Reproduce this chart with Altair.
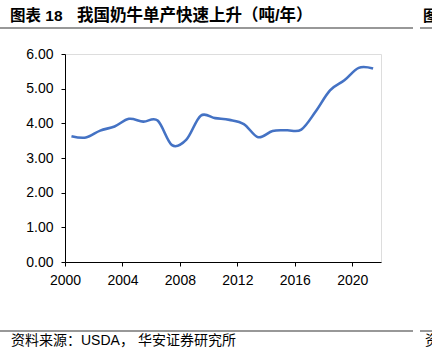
import altair as alt
import pandas as pd

years = list(range(2000, 2022))
yield_t = [3.63, 3.59, 3.79, 3.91, 4.13, 4.05, 4.08, 3.37, 3.53, 4.22, 4.15,
           4.10, 3.98, 3.60, 3.78, 3.80, 3.82, 4.34, 4.95, 5.24, 5.60, 5.58]
x_ticks = [2000, 2004, 2008, 2012, 2016, 2020]
y_ticks = [0, 1, 2, 3, 4, 5, 6]

title_label = "图表 18"
title_text = "我国奶牛单产快速上升（吨/年）"
source_a = "资料来源：USDA，"
source_b = "华安证券研究所"

FONT = "Liberation Sans, Noto Sans CJK SC"

df = pd.DataFrame({"year": years, "value": yield_t})

line = alt.Chart(df).transform_calculate(
    xpos="datum.year + 0.45"
).mark_line(
    interpolate="cardinal", color="#4472C4", strokeWidth=2.6
).encode(
    x=alt.X("xpos:Q", scale=alt.Scale(domain=[2000, 2022], nice=False, zero=False),
            axis=alt.Axis(values=x_ticks, format="d", title=None, grid=False,
                          domainColor="#000", tickColor="#000", tickSize=4,
                          labelFontSize=14, labelFont=FONT, labelColor="#000",
                          labelPadding=7, labelFlush=False)),
    y=alt.Y("value:Q", scale=alt.Scale(domain=[0, 6], nice=False),
            axis=alt.Axis(values=y_ticks, format=".2f", title=None, grid=False,
                          domainColor="#000", tickColor="#000", tickSize=4,
                          labelFontSize=14, labelFont=FONT, labelColor="#000",
                          labelPadding=8)),
)

one = alt.Data(values=[{"a": 1}])

def txt(s, x, y, size, weight="normal", color="#000"):
    return alt.Chart(one).mark_text(
        text=s, align="left", baseline="middle", fontSize=size,
        fontWeight=weight, font=FONT, color=color
    ).encode(x=alt.value(x), y=alt.value(y))

def rule(x1, x2, y):
    return alt.Chart(one).mark_rule(color="#333", strokeWidth=1.2).encode(
        x=alt.value(x1), x2=alt.value(x2), y=alt.value(y))

chart = alt.layer(
    line,
    txt(title_label, -55, -38, 15.5, "bold"),
    txt(title_text, 12, -38, 16.5, "bold"),
    txt("图", 358, -38, 15, "bold"),
    rule(-65, 348, -26),
    rule(355, 400, -26),
    rule(-65, 348, 277),
    rule(355, 400, 277),
    txt(source_a, -54, 287, 14),
    txt(source_b, 73, 287, 14),
    txt("资", 360, 287, 14),
).properties(
    width=316, height=208,
    padding={"left": 65, "top": 54, "right": 51, "bottom": 88},
    autosize=alt.AutoSizeParams(type="none"),
).configure_view(stroke=None).configure(background="white")

chart.save("out.html", embed_options={"renderer": "svg", "actions": False})
